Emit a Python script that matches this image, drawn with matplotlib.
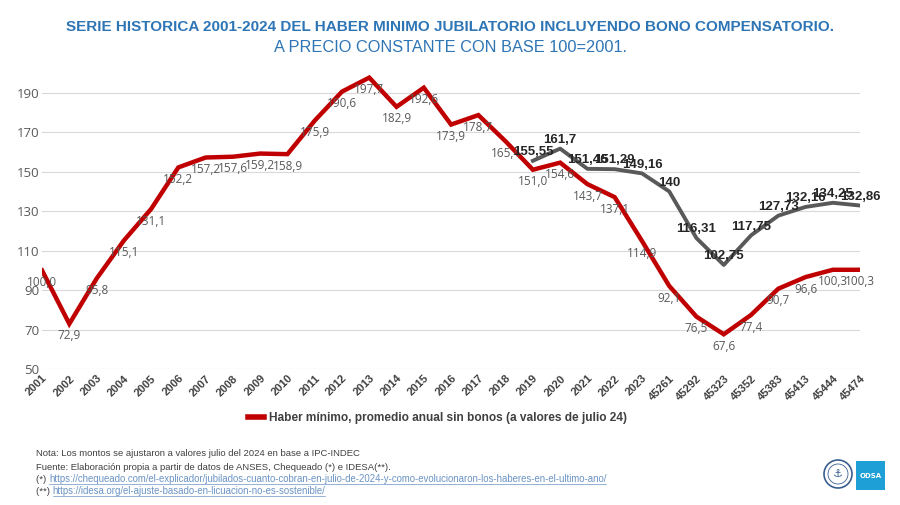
import matplotlib
matplotlib.use("Agg")
from matplotlib import pyplot as plt
from matplotlib.patches import Ellipse, Rectangle
from matplotlib.lines import Line2D

# categorias del eje x (anios y luego meses en serial de Excel)
categorias = [str(a) for a in range(2001, 2024)] + [
    "45261", "45292", "45323", "45352", "45383", "45413", "45444", "45474"]

# haber minimo sin bonos (base 100 = 2001)
haber_sin_bono = [100.0, 72.9, 95.8, 115.1, 131.1, 152.2, 157.2, 157.6, 159.2,
                  158.9, 175.9, 190.6, 197.7, 182.9, 192.6, 173.9, 178.7, 165.4,
                  151.0, 154.6, 143.7, 137.1, 114.9, 92.1, 76.5, 67.6, 77.4,
                  90.7, 96.6, 100.3, 100.3]

# haber minimo con bono compensatorio, desde 2019
inicio_bono = 18
haber_con_bono = [155.55, 161.7, 151.46, 151.29, 149.16, 140, 116.31, 102.75,
                  117.75, 127.73, 132.16, 134.25, 132.86]

etiquetas_y = [50, 70, 90, 110, 130, 150, 170, 190]

rojo = "#c00000"
gris = "#595959"
fuente = ["Liberation Sans", "DejaVu Sans"]

fig = plt.figure(figsize=(9, 5.05), dpi=100)
ax = fig.add_axes([0.0467, 0.2693, 0.909, 0.586])

x = list(range(len(categorias)))
ax.plot(x, haber_sin_bono, color=rojo, lw=3.2, solid_joinstyle="miter", zorder=3)
xb = x[inicio_bono:]
ax.plot(xb, haber_con_bono, color=gris, lw=2.8, zorder=2)

for xi, v in zip(x, haber_sin_bono):
    ax.annotate(f"{v:.1f}".replace(".", ","), (xi, v), xytext=(0, -4),
                textcoords="offset points", ha="center", va="top",
                fontsize=8.5, color="#595959",
                family=["Open Sans", "DejaVu Sans"], zorder=4)

for xi, v in zip(xb, haber_con_bono):
    ax.annotate(f"{v:g}".replace(".", ","), (xi, v), xytext=(0, 2),
                textcoords="offset points", ha="center", va="bottom",
                fontsize=9.5, color="#262626", fontweight="bold",
                family=fuente, zorder=4)

ax.set_xlim(0, len(categorias) - 1)
ax.set_ylim(50, 200)
ax.set_yticks(etiquetas_y)
ax.set_xticks(x)
ax.set_xticklabels(categorias, rotation=45, ha="right", rotation_mode="anchor",
                   fontsize=8, fontweight="bold", color="#404040", family=fuente)
for t in ax.get_yticklabels():
    t.set_fontsize(9.5)
    t.set_color("#595959")
    t.set_family(["Open Sans", "DejaVu Sans"])
ax.tick_params(axis="y", length=0, pad=2)
ax.tick_params(axis="x", length=0, pad=3)
ax.grid(axis="y", color="#d9d9d9", lw=0.8)
ax.set_axisbelow(True)
for s in ax.spines.values():
    s.set_visible(False)

# leyenda
leg = fig.legend([Line2D([], [], color=rojo, lw=4)],
                 ["Haber mínimo, promedio anual sin bonos (a valores de julio 24)"],
                 loc="center", bbox_to_anchor=(0.486, 0.172), frameon=False,
                 handlelength=1.3, handletextpad=0.4,
                 prop={"family": fuente, "weight": "bold", "size": 8.6})
for t in leg.get_texts():
    t.set_color("#404040")

# titulos
fig.text(0.5, 0.946, "SERIE HISTORICA 2001-2024 DEL HABER MINIMO JUBILATORIO "
         "INCLUYENDO BONO COMPENSATORIO.", ha="center", va="center",
         fontsize=11, fontweight="bold", color="#2e75b6", family=fuente)
fig.text(0.5, 0.906, "A PRECIO CONSTANTE CON BASE 100=2001.", ha="center",
         va="center", fontsize=11.8, color="#2e75b6", family=fuente)

# notas al pie
notas = [
    ("Nota: Los montos se ajustaron a valores julio del 2024 en base a IPC-INDEC", None),
    ("Fuente: Elaboración propia a partir de datos de ANSES, Chequeado (*) e IDESA(**).", None),
    ("(*) ", "https://chequeado.com/el-explicador/jubilados-cuanto-cobran-en-julio-de-2024-y-como-evolucionaron-los-haberes-en-el-ultimo-ano/"),
    ("(**) ", "https://idesa.org/el-ajuste-basado-en-licuacion-no-es-sostenible/"),
]
ys = [454, 467, 479, 491]
fig.canvas.draw()
r = fig.canvas.get_renderer()
for (txt, link), yp in zip(notas, ys):
    yf = 1 - yp / 505
    t = fig.text(36 / 900, yf, txt, ha="left", va="center", fontsize=6.8,
                 color="#404040", family=fuente)
    if link:
        bb = t.get_window_extent(renderer=r)
        l = fig.text(bb.x1 / 900, yf, link, ha="left", va="center",
                     fontsize=6.9, color="#6a93c4", family=fuente)
        bl = l.get_window_extent(renderer=r)
        fig.add_artist(Line2D([bl.x0 / 900, bl.x1 / 900],
                              [bl.y0 / 505, bl.y0 / 505], color="#6a93c4",
                              lw=0.5, transform=fig.transFigure))

# logos
fig.add_artist(Ellipse((838 / 900, 1 - 474 / 505), 28 / 900, 28 / 505,
                       transform=fig.transFigure, facecolor="white",
                       edgecolor="#3a5f8f", lw=1.2))
fig.add_artist(Ellipse((838 / 900, 1 - 474 / 505), 20 / 900, 20 / 505,
                       transform=fig.transFigure, facecolor="none",
                       edgecolor="#3a5f8f", lw=0.6))
fig.text(838 / 900, 1 - 474 / 505, "⚓", ha="center", va="center",
         fontsize=8, color="#3a5f8f")
fig.add_artist(Rectangle((856 / 900, 1 - 490 / 505), 29 / 900, 29 / 505,
                         transform=fig.transFigure, facecolor="#1ea0d7",
                         edgecolor="none"))
fig.text(870.5 / 900, 1 - 475.5 / 505, "ODSA", ha="center", va="center",
         fontsize=5, fontweight="bold", color="white")

fig.savefig("out.png", dpi=100, facecolor="white")
